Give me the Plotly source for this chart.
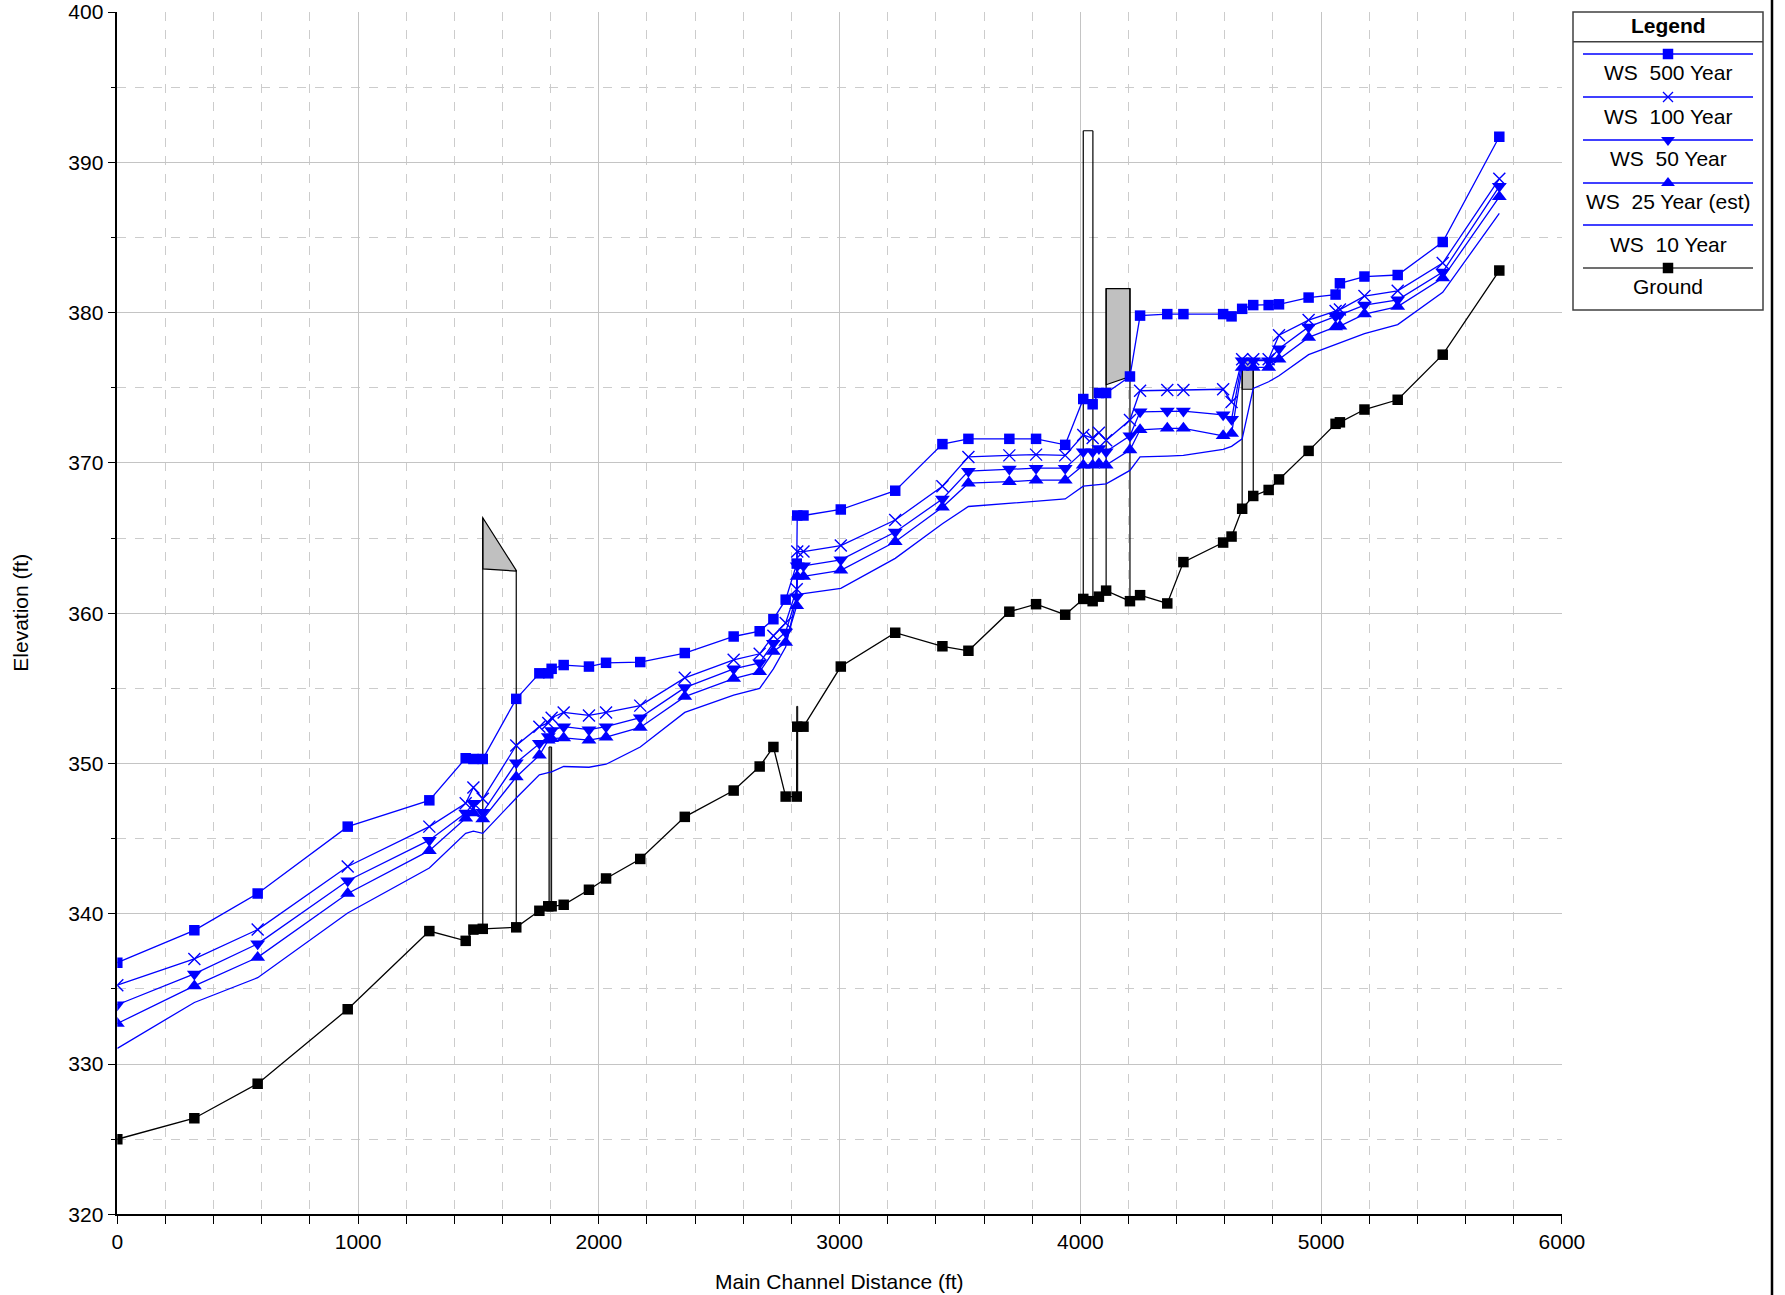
import plotly.graph_objects as go

# ---------------- data ----------------
station = [0, 320, 583, 957, 1296, 1447, 1479, 1518, 1657, 1753, 1790, 1804, 1854, 1959, 2030,
           2172, 2357, 2560, 2668, 2725, 2776, 2822, 2824, 2850, 3005, 3231, 3427, 3535, 3705,
           3816, 3937, 4012, 4051, 4077, 4107, 4206, 4248, 4361, 4428, 4593, 4628, 4672, 4718,
           4782, 4825, 4948, 5060, 5078, 5180, 5318, 5505, 5740]

ground = [325.0, 326.4, 328.7, 333.65, 338.85, 338.2, 338.95, 339.0, 339.1, 340.2, 340.5, 340.5,
          340.6, 341.6, 342.35, 343.65, 346.45, 348.2, 349.8, 351.1, 347.8, 347.8, 352.45, 352.45,
          356.45, 358.7, 357.8, 357.5, 360.1, 360.6, 359.9, 360.95, 360.8, 361.1, 361.5, 360.8,
          361.2, 360.65, 363.4, 364.7, 365.1, 366.95, 367.8, 368.2, 368.9, 370.8, 372.6, 372.7,
          373.55, 374.2, 377.2, 382.8]

ws500 = [336.75, 338.9, 341.35, 345.8, 347.55, 350.35, 350.3, 350.3, 354.3, 356.0, 356.0, 356.3,
         356.55, 356.45, 356.7, 356.75, 357.35, 358.45, 358.8, 359.6, 360.9, 363.3, 366.5, 366.5,
         366.9, 368.15, 371.25, 371.6, 371.6, 371.6, 371.2, 374.25, 373.9, 374.65, 374.65, 375.75,
         379.8, 379.9, 379.9, 379.9, 379.75, 380.25, 380.5, 380.5, 380.55, 381.0, 381.2, 381.95,
         382.4, 382.5, 384.7, 391.7]

ws100 = [335.25, 337.0, 338.95, 343.15, 345.8, 347.35, 348.4, 347.65, 351.2, 352.45, 352.7, 353.05,
         353.4, 353.2, 353.4, 353.85, 355.7, 356.9, 357.3, 358.5, 359.35, 361.6, 364.1, 364.1,
         364.5, 366.2, 368.45, 370.4, 370.5, 370.55, 370.5, 371.85, 371.65, 372.0, 371.5, 372.85,
         374.8, 374.85, 374.85, 374.9, 374.05, 376.9, 376.9, 376.9, 378.5, 379.5, 380.1, 380.2,
         381.1, 381.45, 383.3, 388.9]

ws50 = [333.95, 336.0, 338.0, 342.2, 344.9, 346.7, 347.35, 346.75, 350.05, 351.35, 351.8, 352.2,
        352.45, 352.25, 352.45, 353.05, 355.05, 356.3, 356.7, 358.0, 358.75, 361.1, 363.15, 363.15,
        363.55, 365.4, 367.6, 369.45, 369.6, 369.65, 369.65, 370.75, 370.75, 370.95, 370.75, 371.8,
        373.4, 373.45, 373.45, 373.2, 372.9, 376.8, 376.8, 376.8, 377.6, 379.05, 379.75, 379.85,
        380.5, 380.85, 382.7, 388.4]

ws25 = [332.7, 335.2, 337.1, 341.35, 344.2, 346.35, 346.7, 346.3, 349.1, 350.55, 351.55, 351.65,
        351.7, 351.55, 351.75, 352.4, 354.45, 355.65, 356.1, 357.45, 358.05, 360.5, 362.45, 362.45,
        362.85, 364.75, 367.05, 368.65, 368.75, 368.85, 368.85, 369.85, 369.85, 369.95, 369.85,
        370.85, 372.2, 372.3, 372.3, 371.8, 371.95, 376.35, 376.35, 376.35, 376.9, 378.35, 379.05,
        379.1, 379.9, 380.4, 382.3, 387.7]

ws10 = [331.05, 334.1, 335.75, 340.05, 343.05, 345.35, 345.5, 345.35, 347.7, 349.25, 349.4, 349.45,
        349.8, 349.75, 349.95, 351.1, 353.4, 354.55, 355.0, 356.3, 357.75, 361.1, 361.2, 361.3,
        361.65, 363.65, 365.95, 367.1, 367.3, 367.45, 367.6, 368.45, 368.5, 368.55, 368.6, 369.5,
        370.4, 370.45, 370.5, 370.9, 371.1, 371.6, 374.95, 375.4, 375.8, 377.2, 377.9, 378.0,
        378.6, 379.2, 381.35, 386.6]

# structures (bridges / culverts): left & right station, ground at each side, top of deck, low chord
struct_sta = [[1518, 1657], [4012, 4052], [4107, 4206], [4672, 4718]]
struct_ground = [[339.0, 339.1], [360.95, 360.8], [361.5, 360.8], [366.95, 367.8]]
struct_top = [[366.35, 362.85], [392.1, 392.1], [381.6, 381.6], [376.85, 376.85]]
struct_low = [[362.95, 362.8], [392.1, 392.1], [375.2, 375.75], [374.9, 374.9]]
struct_fill = ["#c0c0c0", "#ffffff", "#c0c0c0", "#c0c0c0"]

# weirs / piers: station span and elevation span
pier_sta = [[1793, 1804], [2822, 2826]]
pier_elev = [[340.5, 351.1], [347.8, 353.8]]

legend_names = ["WS  500 Year", "WS  100 Year", "WS  50 Year", "WS  25 Year (est)", "WS  10 Year", "Ground"]

x_ticks = [0, 1000, 2000, 3000, 4000, 5000, 6000]
y_ticks = [320, 330, 340, 350, 360, 370, 380, 390, 400]

# ---------------- layout geometry ----------------
W, H = 1785, 1295
PL, PR, PT, PB = 117.3, 1561.9, 12.0, 1214.4
FONT = "Liberation Sans, Arial, sans-serif"
BLUE = "#0000ff"
SQ, TRI, XS = 10.5, 13, 12

fig = go.Figure()

series = [
    ("WS  10 Year", ws10, None, 0),
    ("WS  25 Year (est)", ws25, "triangle-up", TRI),
    ("WS  50 Year", ws50, "triangle-down", TRI),
    ("WS  100 Year", ws100, "x-thin", XS),
    ("WS  500 Year", ws500, "square", SQ),
]
for name, ys, sym, sz in series:
    if sym is None:
        fig.add_trace(go.Scatter(x=station, y=ys, mode="lines", name=name,
                                 line=dict(color=BLUE, width=1.3), showlegend=False))
    elif sym == "x-thin":
        fig.add_trace(go.Scatter(x=station, y=ys, mode="lines+markers", name=name,
                                 line=dict(color=BLUE, width=1.3),
                                 marker=dict(symbol=sym, size=sz, line=dict(color=BLUE, width=1.4)),
                                 showlegend=False))
    else:
        fig.add_trace(go.Scatter(x=station, y=ys, mode="lines+markers", name=name,
                                 line=dict(color=BLUE, width=1.3),
                                 marker=dict(symbol=sym, size=sz, color=BLUE, line=dict(width=0)),
                                 showlegend=False))

fig.add_trace(go.Scatter(x=station, y=ground, mode="lines+markers", name="Ground",
                         line=dict(color="black", width=1.3),
                         marker=dict(symbol="square", size=SQ, color="black", line=dict(width=0)),
                         showlegend=False))

shapes = []
# structures
for sta, gr, top, low, fc in zip(struct_sta, struct_ground, struct_top, struct_low, struct_fill):
    x0, x1 = sta
    path = f"M {x0},{top[0]} L {x1},{top[1]} L {x1},{low[1]} L {x0},{low[0]} Z"
    shapes.append(dict(type="path", xref="x", yref="y", path=path, fillcolor=fc,
                       line=dict(color="black", width=1.2), layer="between"))
    shapes.append(dict(type="line", xref="x", yref="y", x0=x0, x1=x0, y0=gr[0], y1=top[0],
                       line=dict(color="black", width=1.2), layer="between"))
    shapes.append(dict(type="line", xref="x", yref="y", x0=x1, x1=x1, y0=gr[1], y1=top[1],
                       line=dict(color="black", width=1.2), layer="between"))
for sta, el in zip(pier_sta, pier_elev):
    shapes.append(dict(type="rect", xref="x", yref="y", x0=sta[0], x1=sta[1], y0=el[0], y1=el[1],
                       fillcolor="#808080", line=dict(color="black", width=1), layer="between"))

# legend box (pixel coordinates on an overlay axis pair spanning the figure)
LX0, LX1, LY0, LY1 = 1573, 1763, 12, 310
shapes.append(dict(type="rect", xref="x2", yref="y2", x0=LX0, x1=LX1, y0=LY0, y1=LY1,
                   fillcolor="white", line=dict(color="#404040", width=1.5), layer="between"))
shapes.append(dict(type="line", xref="x2", yref="y2", x0=LX0, x1=LX1, y0=41.7, y1=41.7,
                   line=dict(color="#404040", width=1.5), layer="between"))
line_y = [54, 97, 140, 183, 225, 268]
text_y = [72.7, 116, 158, 201, 244, 286]
leg_colors = [BLUE, BLUE, BLUE, BLUE, BLUE, "#404040"]
for ly, c in zip(line_y, leg_colors):
    shapes.append(dict(type="line", xref="x2", yref="y2", x0=1583, x1=1753, y0=ly, y1=ly,
                       line=dict(color=c, width=1.5), layer="between"))
# right frame line
shapes.append(dict(type="line", xref="x2", yref="y2", x0=1772, x1=1772, y0=0, y1=H,
                   line=dict(color="black", width=2.5), layer="above"))

# legend markers
leg_syms = [("square", SQ, BLUE), ("x-thin", 10, BLUE), ("triangle-down", 12, BLUE),
            ("triangle-up", 12, BLUE), (None, 0, BLUE), ("square", SQ, "black")]
for (sym, sz, c), ly in zip(leg_syms, line_y):
    if sym is None:
        continue
    if sym == "x-thin":
        mk = dict(symbol=sym, size=sz, line=dict(color=c, width=1.3))
    else:
        mk = dict(symbol=sym, size=sz, color=c, line=dict(width=0))
    fig.add_trace(go.Scatter(x=[1668], y=[ly], xaxis="x2", yaxis="y2", mode="markers",
                             marker=mk, showlegend=False, hoverinfo="skip"))

annotations = []
annotations.append(dict(x=1668, y=25.5, xref="x2", yref="y2", text="<b>Legend</b>", showarrow=False,
                        font=dict(family=FONT, size=21, color="black"), xanchor="center", yanchor="middle"))
for name, ty in zip(legend_names, text_y):
    annotations.append(dict(x=1668, y=ty, xref="x2", yref="y2", text=name, showarrow=False,
                            font=dict(family=FONT, size=21, color="black"),
                            xanchor="center", yanchor="middle"))
annotations.append(dict(x=(PL + PR) / 2, y=1281, xref="x2", yref="y2", text="Main Channel Distance (ft)",
                        showarrow=False, font=dict(family=FONT, size=21, color="black"),
                        xanchor="center", yanchor="middle"))
annotations.append(dict(x=20.5, y=(PT + PB) / 2, xref="x2", yref="y2", text="Elevation (ft)",
                        showarrow=False, textangle=-90, font=dict(family=FONT, size=21, color="black"),
                        xanchor="center", yanchor="middle"))

fig.update_layout(
    width=W, height=H, autosize=False,
    margin=dict(l=0, r=0, t=0, b=0, pad=0, autoexpand=False),
    paper_bgcolor="white", plot_bgcolor="rgba(0,0,0,0)",
    font=dict(family=FONT, size=21, color="black"),
    showlegend=False,
    xaxis=dict(domain=[PL / W, PR / W], range=[0, 6000], tickmode="array", tickvals=x_ticks,
               ticktext=[str(v) for v in x_ticks], automargin=False,
               showgrid=True, gridcolor="#c4c4c4", gridwidth=1,
               showline=True, linecolor="black", linewidth=1.5, zeroline=False,
               ticks="outside", ticklen=8, tickwidth=1.2, tickcolor="black",
               tickfont=dict(family=FONT, size=21, color="black"), anchor="y",
               minor=dict(dtick=200, tick0=0, showgrid=True, gridcolor="#cccccc", griddash="dash",
                          gridwidth=1, ticks="outside", ticklen=8, tickcolor="black", tickwidth=1)),
    yaxis=dict(domain=[1 - PB / H, 1 - PT / H], range=[320, 400], tickmode="array", tickvals=y_ticks,
               ticktext=[str(v) for v in y_ticks], automargin=False,
               showgrid=True, gridcolor="#c4c4c4", gridwidth=1,
               showline=True, linecolor="black", linewidth=1.5, zeroline=False,
               ticks="outside", ticklen=8, tickwidth=1.2, tickcolor="black",
               tickfont=dict(family=FONT, size=21, color="black"), anchor="x",
               minor=dict(dtick=5, tick0=320, showgrid=True, gridcolor="#cccccc", griddash="dash",
                          gridwidth=1, ticks="outside", ticklen=5, tickcolor="black", tickwidth=1)),
    xaxis2=dict(domain=[0, 1], range=[0, W], visible=False, anchor="y2", fixedrange=True, automargin=False),
    yaxis2=dict(domain=[0, 1], range=[H, 0], visible=False, anchor="x2", fixedrange=True, automargin=False),
    shapes=shapes,
    annotations=annotations,
)

fig.write_html("out.html")
